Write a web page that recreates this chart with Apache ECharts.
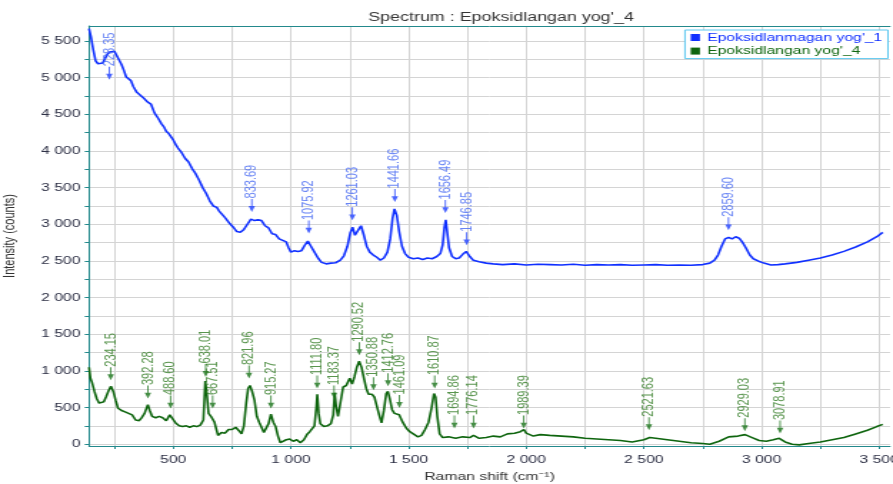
<!DOCTYPE html>
<html>
<head>
<meta charset="utf-8">
<script src="https://cdn.jsdelivr.net/npm/echarts@6/dist/echarts.min.js"></script>
<style>
  html, body { margin: 0; padding: 0; background: #fff; overflow: hidden; }
  /* the chart is laid out at a narrower width and stretched horizontally */
  #chart { width: 625px; height: 484px; transform: scaleX(1.4288); transform-origin: 0 0; }
</style>
</head>
<body>
<div id="chart"></div>
<script>
// Raman spectrum, sample 1 (not epoxidised)
const blueShift = [142,150,160,170,180,190,200,210,220,230,240,250,260,270,280,290,300,310,320,330,345,360,375,390,405,420,435,450,460,470,480,490,500,510,520,535,550,565,580,595,610,625,640,655,670,685,695,705,720,740,755,770,785,800,815,830,845,860,875,890,905,920,935,950,965,980,990,1000,1015,1030,1045,1060,1072,1085,1100,1115,1130,1150,1170,1190,1210,1225,1240,1252,1262,1272,1280,1292,1298,1310,1322,1335,1350,1365,1380,1395,1410,1422,1432,1440,1450,1460,1472,1485,1500,1520,1540,1560,1580,1600,1620,1635,1645,1652,1658,1664,1672,1685,1700,1715,1730,1745,1760,1775,1800,1830,1860,1900,1950,2000,2050,2100,2150,2200,2250,2300,2350,2400,2450,2500,2550,2600,2650,2700,2750,2780,2800,2815,2830,2845,2860,2875,2890,2905,2920,2935,2950,2965,2985,3010,3040,3070,3100,3150,3200,3250,3300,3350,3400,3450,3490,3515];
const blueCounts = [5670,5560,5380,5230,5190,5175,5200,5260,5320,5350,5330,5360,5300,5290,5180,5100,5010,4990,4960,4880,4800,4760,4720,4670,4640,4520,4450,4370,4330,4270,4240,4230,4150,4090,4040,3980,3900,3850,3760,3690,3600,3500,3420,3320,3250,3230,3180,3190,3090,3010,2960,2900,2890,2930,3000,3070,3050,3060,3050,2980,2950,2870,2860,2800,2780,2760,2680,2620,2640,2630,2640,2720,2770,2700,2620,2540,2480,2460,2470,2475,2510,2570,2700,2880,2960,2850,2830,2950,2980,2850,2700,2620,2580,2550,2510,2540,2620,2800,3080,3210,3120,2900,2700,2600,2550,2530,2540,2520,2540,2530,2560,2600,2720,2950,3060,2900,2680,2560,2530,2540,2590,2630,2560,2510,2490,2470,2460,2450,2460,2445,2455,2450,2445,2455,2440,2450,2445,2450,2440,2445,2450,2440,2445,2440,2450,2470,2510,2580,2700,2800,2820,2800,2830,2810,2750,2670,2580,2530,2500,2470,2445,2450,2460,2480,2510,2540,2580,2630,2690,2760,2830,2890];

// Raman spectrum, sample 4 (epoxidised)
const greenShift = [142,148,155,165,175,185,195,205,215,225,235,245,255,265,280,295,310,325,340,355,365,378,392,400,410,425,440,455,470,485,495,510,525,540,555,570,585,600,615,628,636,642,650,660,667,675,690,705,720,735,750,765,780,790,800,810,818,826,835,845,855,865,875,885,895,905,915,925,935,945,955,965,980,995,1010,1025,1040,1055,1070,1080,1090,1100,1108,1112,1118,1125,1140,1155,1170,1180,1186,1192,1200,1210,1222,1235,1250,1260,1270,1280,1290,1300,1310,1320,1330,1345,1355,1365,1375,1385,1395,1405,1412,1420,1430,1440,1450,1460,1475,1490,1505,1520,1540,1555,1570,1585,1598,1608,1615,1622,1632,1645,1670,1700,1730,1760,1776,1800,1830,1860,1890,1920,1950,1975,1990,2000,2030,2060,2100,2150,2200,2250,2300,2350,2400,2450,2500,2525,2550,2600,2650,2700,2750,2780,2820,2860,2900,2930,2960,2990,3020,3050,3075,3100,3130,3160,3200,3250,3300,3350,3400,3450,3490,3515];
const greenCounts = [1050,900,840,720,620,560,550,580,650,730,790,720,600,490,460,440,420,400,330,320,360,420,540,460,380,360,380,360,320,400,380,290,250,240,250,230,250,240,260,330,860,700,420,380,400,300,120,160,150,200,200,230,180,140,250,560,760,800,720,600,380,300,230,160,180,280,410,300,240,110,20,40,60,70,40,60,20,60,140,170,150,250,500,680,420,280,240,250,280,400,700,520,380,560,780,800,900,820,920,1050,1130,1050,900,760,680,680,640,520,400,290,460,690,720,620,470,420,440,400,300,220,170,140,100,120,200,300,500,690,640,380,140,90,100,80,100,90,120,80,90,110,100,140,150,170,200,150,110,130,120,110,100,80,70,60,50,30,60,90,80,60,40,20,10,0,40,100,110,130,90,50,40,60,80,30,0,-10,10,30,60,90,140,190,240,270];

// Peak annotations: position and arrow-tip height
const bluePeaks = [228.35, 833.69, 1075.92, 1261.03, 1441.66, 1656.49, 1746.85, 2859.60];
const bluePeakTips = [4973, 3168, 2873, 3055, 3304, 3154, 2714, 2918];
const greenPeaks = [234.15, 392.28, 488.60, 638.01, 667.51, 821.96, 915.27, 1111.80, 1183.37, 1290.52, 1350.88, 1412.76, 1461.09, 1610.87, 1694.86, 1776.14, 1989.39, 2521.63, 2929.03, 3078.91];
const greenPeakTips = [873, 623, 486, 918, 486, 895, 486, 759, 623, 1214, 736, 791, 495, 759, 214, 214, 214, 191, 177, 145];

// Axis ranges and tick positions
const xRange = [142, 3546];
const yRange = [-25, 5705];
const xTickValues = [250, 500, 750, 1000, 1250, 1500, 1750, 2000, 2250, 2500, 2750, 3000, 3250, 3500];
const yTickValues = [0, 250, 500, 750, 1000, 1250, 1500, 1750, 2000, 2250, 2500, 2750, 3000, 3250, 3500, 3750, 4000, 4250, 4500, 4750, 5000, 5250, 5500];

const seriesNames = ["Epoksidlanmagan yog'_1", "Epoksidlangan yog'_4"];
const BLUE = '#1030ff';
const GREEN = '#0e650e';
const FONT = 'Liberation Sans, Arial, sans-serif';
const AXIS = '#23898c';
const GRIDLINE = '#d4d4d4';

const pairs = (xs, ys) => xs.map((x, i) => [x, ys[i]]);
const spaced = v => String(v).replace(/\B(?=(\d{3})+(?!\d))/g, ' ');
const arrow = 'path://M4,0 L6,0 L6,11 L10,11 L5,20 L0,11 L4,11 Z';

function peakSeries(peaks, tips, color, labelColor) {
  return {
    type: 'scatter',
    silent: true,
    z: 5,
    data: pairs(peaks, tips),
    symbol: arrow,
    symbolSize: [4.5, 13],
    symbolOffset: [0, -6.5],
    itemStyle: { color: color },
    label: {
      show: true,
      position: 'top',
      distance: 0.5,
      rotate: 90,
      align: 'left',
      verticalAlign: 'middle',
      color: labelColor,
      fontSize: 11,
      fontFamily: FONT,
      formatter: p => p.value[0].toFixed(2)
    },
    emphasis: { disabled: true }
  };
}

const chart = echarts.init(document.getElementById('chart'), null, { renderer: 'canvas' });
chart.setOption({
  animation: false,
  backgroundColor: '#fff',
  title: {
    text: "Spectrum : Epoksidlangan yog'_4",
    left: 345.7,
    textAlign: 'center',
    top: 6,
    textStyle: { fontSize: 12.5, fontWeight: 'normal', color: '#353535', fontFamily: FONT }
  },
  legend: {
    data: [
      { name: seriesNames[0], textStyle: { color: BLUE } },
      { name: seriesNames[1], textStyle: { color: GREEN } }
    ],
    orient: 'vertical',
    left: 479.4,
    top: 30,
    padding: [2, 4, 2, 4],
    itemGap: 2.6,
    itemWidth: 6.5,
    itemHeight: 7,
    icon: 'rect',
    borderColor: '#5cc8f0',
    borderWidth: 1,
    backgroundColor: '#fff',
    textStyle: { fontSize: 11, fontFamily: FONT }
  },
  grid: { left: 62.3, right: 2.1, top: 26, bottom: 38, outerBoundsMode: 'none' },
  xAxis: [{
    type: 'value',
    min: xRange[0],
    max: xRange[1],
    splitNumber: 7,
    name: 'Raman shift (cm\u207B\u00B9)',
    nameLocation: 'middle',
    nameGap: 25,
    nameTextStyle: { fontSize: 11, color: '#333', fontFamily: FONT },
    axisLine: { show: true, onZero: false, lineStyle: { color: AXIS, width: 1 } },
    axisTick: { show: true, length: 3, customValues: xTickValues, lineStyle: { color: AXIS } },
    axisLabel: { fontSize: 11, color: '#2e3146', fontFamily: FONT, margin: 8, showMinLabel: false, showMaxLabel: false, formatter: spaced },
    splitLine: { show: true, lineStyle: { color: GRIDLINE, width: 1 } }
  }, {
    type: 'value',
    position: 'top',
    min: xRange[0],
    max: xRange[1],
    axisLine: { show: true, onZero: false, lineStyle: { color: AXIS, width: 1 } },
    axisTick: { show: false },
    axisLabel: { show: false },
    splitLine: { show: false }
  }],
  yAxis: {
    type: 'value',
    min: yRange[0],
    max: yRange[1],
    splitNumber: 11,
    name: 'Intensity (counts)',
    nameLocation: 'middle',
    nameGap: 50,
    nameTextStyle: { fontSize: 11, color: '#333', fontFamily: FONT },
    axisLine: { show: true, onZero: false, lineStyle: { color: AXIS, width: 1 } },
    axisTick: { show: true, length: 3, customValues: yTickValues, lineStyle: { color: AXIS } },
    axisLabel: { fontSize: 11, color: '#2e3146', fontFamily: FONT, margin: 6, showMinLabel: false, showMaxLabel: false, formatter: spaced },
    splitLine: { show: true, lineStyle: { color: GRIDLINE, width: 1 } }
  },
  series: [
    {
      name: seriesNames[0],
      type: 'line',
      data: pairs(blueShift, blueCounts),
      showSymbol: false,
      symbol: 'none',
      z: 3,
      color: BLUE,
      lineStyle: { color: BLUE, width: 1.6 }
    },
    {
      name: seriesNames[1],
      type: 'line',
      data: pairs(greenShift, greenCounts),
      showSymbol: false,
      symbol: 'none',
      z: 3,
      color: GREEN,
      lineStyle: { color: GREEN, width: 1.6 }
    },
    peakSeries(bluePeaks, bluePeakTips, '#1a3cff', '#4466f2'),
    peakSeries(greenPeaks, greenPeakTips, '#157015', '#2f7a22')
  ]
});
</script>
</body>
</html>
